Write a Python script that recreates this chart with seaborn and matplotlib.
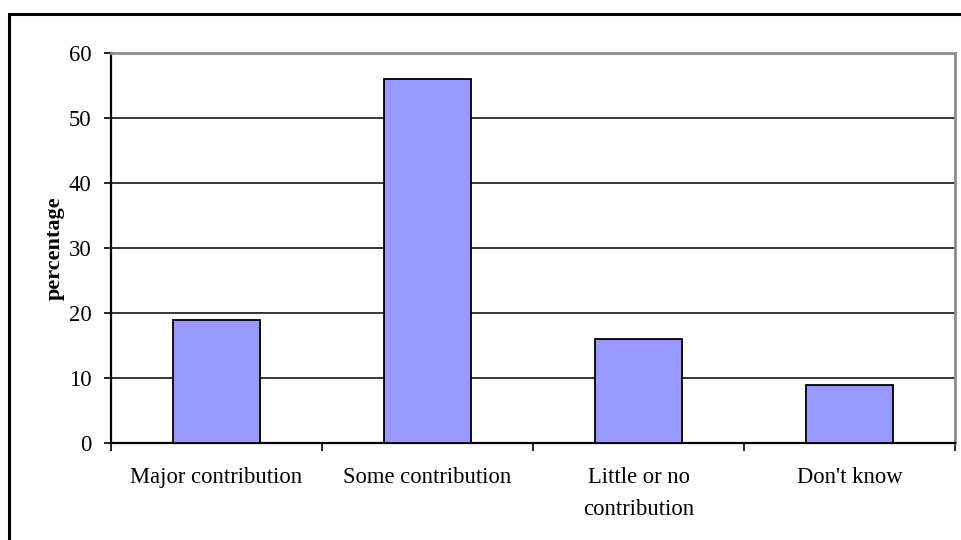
import matplotlib
matplotlib.use("Agg")
import matplotlib.pyplot as plt
from matplotlib.patches import Rectangle
from matplotlib.ticker import FixedLocator
import seaborn as sns
import pandas as pd

categories = ["Major contribution", "Some contribution", "Little or no\ncontribution", "Don't know"]
percentages = [19, 56, 16, 9]
y_ticks = [0, 10, 20, 30, 40, 50, 60]

sns.set_theme(style="white")
plt.rcParams["font.family"] = ["Liberation Serif", "DejaVu Serif"]
plt.rcParams["text.color"] = "black"
plt.rcParams["xtick.color"] = "black"
plt.rcParams["ytick.color"] = "black"
plt.rcParams["axes.labelcolor"] = "black"

df = pd.DataFrame({"category": categories, "percentage": percentages})

fig = plt.figure(figsize=(9.61, 5.40), dpi=100)
fig.patch.set_facecolor("white")
ax = fig.add_axes([111 / 961, 97 / 540, 844 / 961, 390 / 540])

sns.barplot(data=df, x="category", y="percentage", color="#9999FF", saturation=1,
            width=0.41, edgecolor="black", linewidth=1.3, ax=ax, zorder=3)

ax.set_ylim(0, 60)
ax.set_xlim(-0.5, 3.5)
ax.set_yticks(y_ticks)
ax.yaxis.grid(True, color="black", linewidth=1.1, zorder=0)
ax.set_axisbelow(True)

ax.set_xlabel("")
ax.set_ylabel("percentage", fontsize=16, fontweight="bold", labelpad=3)

ax.tick_params(axis="y", which="major", direction="out", length=5, width=1.2,
               labelsize=16.3, pad=9, left=True)
ax.tick_params(axis="x", which="major", length=0, labelsize=16.3, pad=17)
for lbl in ax.get_xticklabels():
    lbl.set_linespacing(1.7)
    lbl.set_verticalalignment("top")
ax.xaxis.set_minor_locator(FixedLocator([-0.5, 0.5, 1.5, 2.5, 3.5]))
ax.tick_params(axis="x", which="minor", direction="out", length=6, width=1.2,
               bottom=True)

for side in ("left", "bottom"):
    ax.spines[side].set_color("black")
    ax.spines[side].set_linewidth(1.6)
for side in ("top", "right"):
    ax.spines[side].set_visible(True)
    ax.spines[side].set_color("#8c8c8c")
    ax.spines[side].set_linewidth(2)

# Outer frame around the whole chart
fig.patches.append(Rectangle((8.5 / 961, -0.2), 1.5, (540 - 13.5) / 540 + 0.2,
                             transform=fig.transFigure, fill=False,
                             edgecolor="black", linewidth=2.2, clip_on=False))

fig.savefig("out.png", dpi=100, facecolor="white")
